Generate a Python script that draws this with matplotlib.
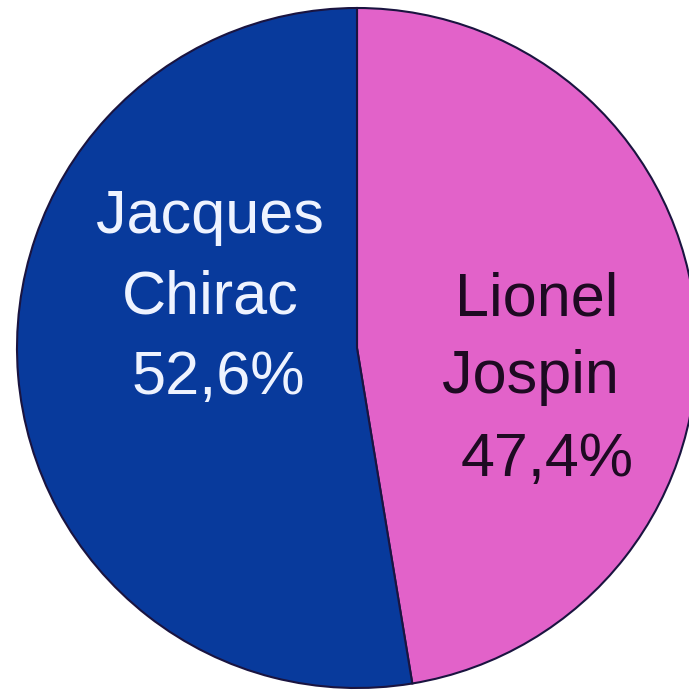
import matplotlib
matplotlib.use("Agg")
import matplotlib.pyplot as plt

# Résultats du second tour 1995
candidats = ["Lionel\nJospin", "Jacques\nChirac"]
scores = [47.4, 52.6]
etiquettes = ["47,4%", "52,6%"]
couleurs = ["#e262c9", "#083a9c"]
couleurs_texte = ["#1e0a22", "#eef3ff"]

fig = plt.figure(figsize=(6.89, 6.92), dpi=100)
ax = fig.add_axes([0, 0, 1, 1])

# axe y inversé (coordonnées pixels) : -90 = haut, sens trigo = sens horaire à l'écran
wedges, _ = ax.pie(scores, colors=couleurs, startangle=-90, counterclock=True,
                   center=(357, 348), radius=340,
                   wedgeprops=dict(edgecolor="#1a1440", linewidth=1.5))
ax.set_xlim(0, 689)
ax.set_ylim(692, 0)
ax.set_aspect("equal")
ax.axis("off")

# positions des lignes de texte (pixels)
lignes_pos = [
    [(537, 300), (530, 378), (547, 460)],
    [(210, 218), (210, 298), (218, 378)],
]
for i in range(len(candidats)):
    lignes = candidats[i].split("\n") + [etiquettes[i]]
    for txt, (x, y) in zip(lignes, lignes_pos[i]):
        ax.text(x, y, txt, ha="center", va="center", fontsize=44,
                family="Liberation Sans", color=couleurs_texte[i])

fig.savefig("out.png", dpi=100)
